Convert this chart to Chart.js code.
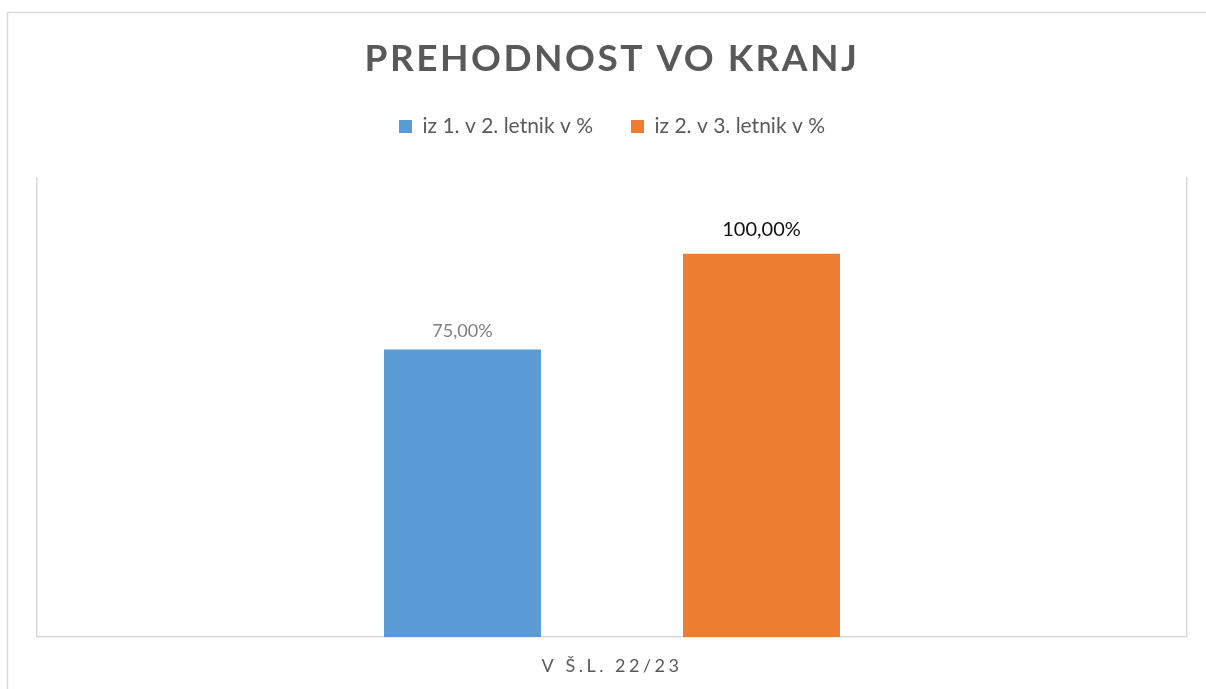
<!DOCTYPE html>
<html>
<head>
<meta charset="utf-8">
<script src="https://cdn.jsdelivr.net/npm/chart.js@4/dist/chart.umd.min.js"></script>
<style>
  html, body { margin: 0; padding: 0; background: #ffffff; }
  #wrap { position: relative; width: 1206px; height: 689px; }
</style>
</head>
<body>
<div id="wrap"><canvas id="c" width="1206" height="689"></canvas></div>
<script>
const chartTitle = 'PREHODNOST VO KRANJ';
const categories = ['V Š.L. 22/23'];
const seriesNames = ['iz 1. v 2. letnik v %', 'iz 2. v 3. letnik v %'];
const series1Values = [75];
const series2Values = [100];
const valueLabels1 = ['75,00%'];
const valueLabels2 = ['100,00%'];

const FONT = 'Lato, "Open Sans", "DejaVu Sans", sans-serif';

const framePlugin = {
  id: 'frame',
  beforeDraw(chart) {
    const ctx = chart.ctx;
    ctx.save();
    ctx.strokeStyle = '#d9d9d9';
    ctx.lineWidth = 1.5;
    ctx.strokeRect(7.5, 12.5, 1400, 900);
    ctx.restore();
    if (chart.titleBlock && !chart.titleBlock._spaced) {
      const tb = chart.titleBlock;
      const orig = tb.draw;
      tb.draw = function () {
        chart.ctx.save();
        chart.ctx.letterSpacing = '2.5px';
        orig.apply(this, arguments);
        chart.ctx.restore();
      };
      tb._spaced = true;
    }
    const xs = chart.scales.x;
    if (xs && !xs._spaced) {
      const origL = xs.drawLabels;
      xs.drawLabels = function () {
        chart.ctx.save();
        chart.ctx.letterSpacing = '3.5px';
        origL.apply(this, arguments);
        chart.ctx.restore();
      };
      xs._spaced = true;
    }
  }
};

const valueLabelPlugin = {
  id: 'valueLabels',
  afterDatasetsDraw(chart) {
    const ctx = chart.ctx;
    chart.data.datasets.forEach((ds, i) => {
      const meta = chart.getDatasetMeta(i);
      meta.data.forEach((el, j) => {
        ctx.save();
        ctx.font = ds.labelFontSize + 'px ' + FONT;
        ctx.fillStyle = ds.labelColor;
        ctx.textAlign = 'center';
        ctx.textBaseline = 'alphabetic';
        ctx.fillText(ds.valueLabels[j], el.x, el.y - ds.labelGap);
        ctx.restore();
      });
    });
  }
};

new Chart(document.getElementById('c'), {
  type: 'bar',
  data: {
    labels: categories,
    datasets: [
      {
        label: seriesNames[0],
        data: series1Values,
        valueLabels: valueLabels1,
        backgroundColor: '#5b9bd5',
        labelColor: '#7f7f7f',
        labelFontSize: 18,
        labelGap: 13,
        categoryPercentage: 0.52,
        barPercentage: 0.525
      },
      {
        label: seriesNames[1],
        data: series2Values,
        valueLabels: valueLabels2,
        backgroundColor: '#ed7d31',
        labelColor: '#111111',
        labelFontSize: 20,
        labelGap: 18,
        categoryPercentage: 0.52,
        barPercentage: 0.525
      }
    ]
  },
  options: {
    responsive: false,
    animation: false,
    devicePixelRatio: 1,
    layout: { padding: { left: 37, right: 19, top: 0, bottom: 12 } },
    plugins: {
      title: {
        display: true,
        text: chartTitle,
        color: '#595959',
        font: { family: FONT, size: 37, weight: 'bold', lineHeight: 1 },
        padding: { top: 41, bottom: 0 }
      },
      legend: {
        display: true,
        position: 'top',
        labels: {
          color: '#595959',
          font: { family: FONT, size: 21 },
          boxWidth: 13,
          boxHeight: 13,
          padding: 38
        }
      },
      tooltip: { enabled: false }
    },
    scales: {
      x: {
        grid: { display: true, offset: true, color: '#d9d9d9', lineWidth: 1.5, drawTicks: false },
        border: { display: true, color: '#d9d9d9', width: 1.5 },
        ticks: { color: '#595959', font: { family: FONT, size: 18 }, padding: 18 },
        afterFit(scale) { scale.height = 40; }
      },
      xTopSpace: {
        type: 'category',
        position: 'top',
        display: true,
        grid: { display: false, drawTicks: false },
        border: { display: false },
        ticks: { display: false },
        afterFit(scale) { scale.height = 30; }
      },
      y: {
        display: false,
        min: 0,
        max: 120
      }
    }
  },
  plugins: [framePlugin, valueLabelPlugin]
});
</script>
</body>
</html>
